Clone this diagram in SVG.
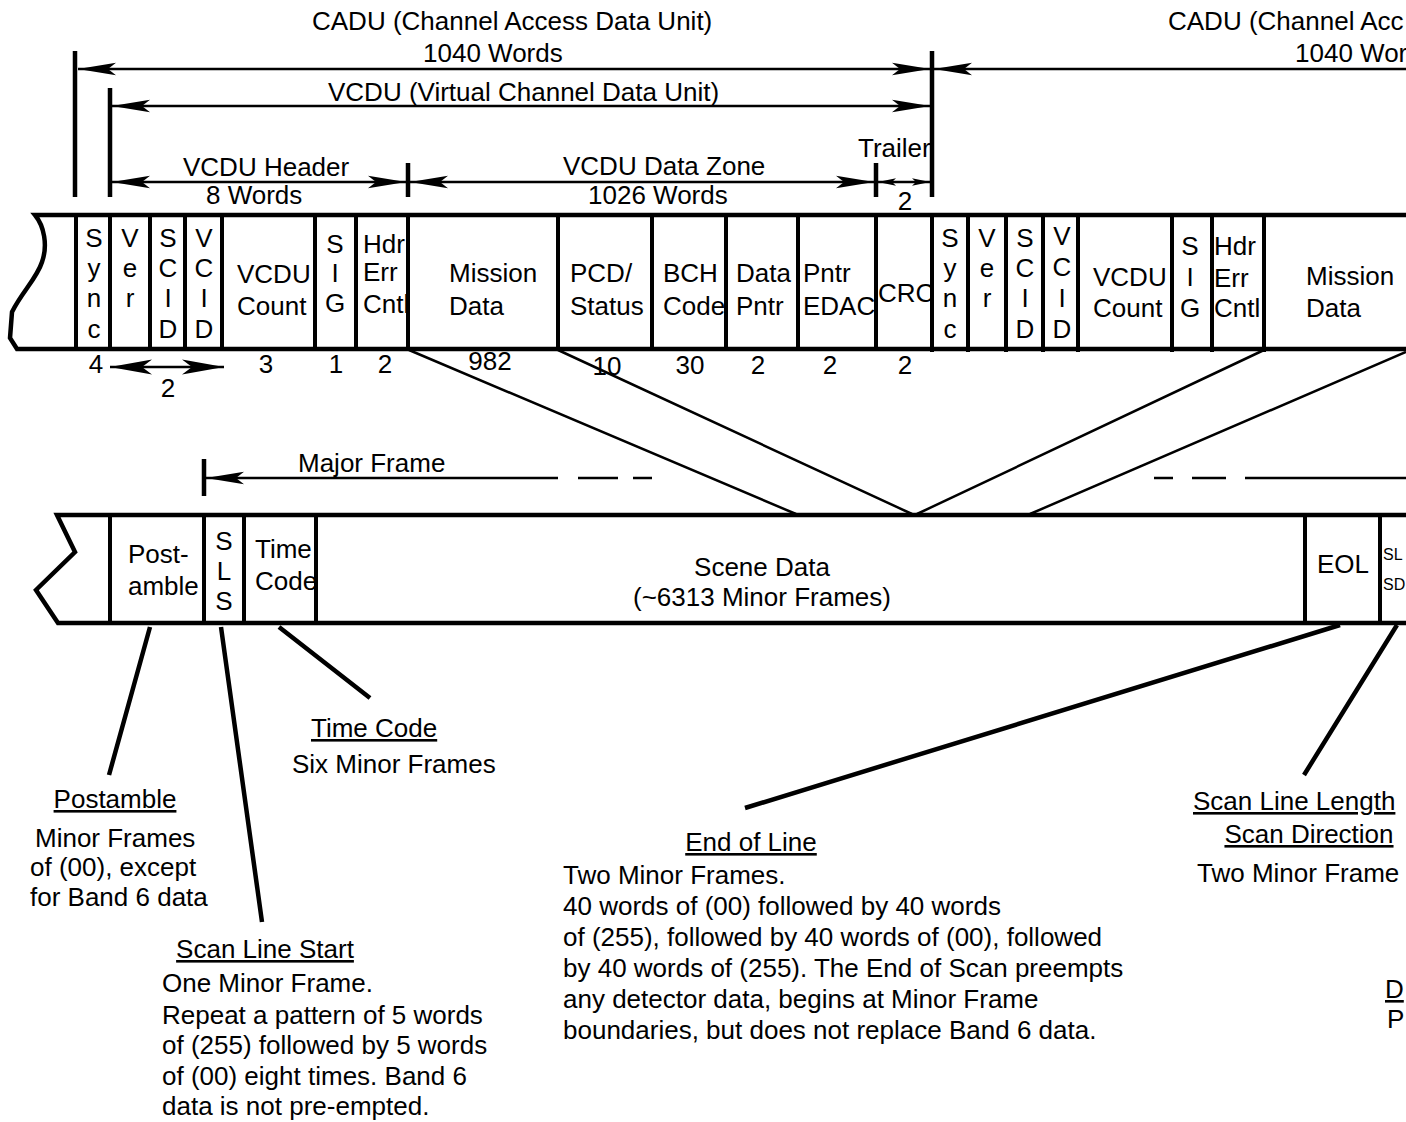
<svg xmlns="http://www.w3.org/2000/svg" width="1406" height="1122" viewBox="0 0 1406 1122">
<style>
text{font-family:"Liberation Sans",Arial,sans-serif;font-size:26px;fill:#000}
.m{text-anchor:middle}
.u{text-decoration:underline}
.fr{fill:none;stroke:#000;stroke-width:4.5}
.dv{stroke:#000;stroke-width:4}
.bar{stroke:#000;stroke-width:4.5}
.ar{stroke:#000;stroke-width:2.5;fill:none}
.dg{stroke:#000;stroke-width:2.5}
.ld{stroke:#000;stroke-width:4.5}
.sm{font-size:16px}
</style>
<defs>
<marker id="ah" markerUnits="userSpaceOnUse" markerWidth="40" markerHeight="14" refX="38" refY="7" orient="auto-start-reverse" viewBox="0 0 40 14"><path d="M38,7 L0,0.8 L8,7 L0,13.2 Z"/></marker>
<marker id="ahs" markerUnits="userSpaceOnUse" markerWidth="20" markerHeight="10" refX="18" refY="5" orient="auto-start-reverse" viewBox="0 0 20 10"><path d="M18,5 L0,1.2 L4,5 L0,8.8 Z"/></marker>
<marker id="ahw" markerUnits="userSpaceOnUse" markerWidth="44" markerHeight="18" refX="42" refY="9" orient="auto-start-reverse" viewBox="0 0 44 18"><path d="M42,9 L0,1.5 L10,9 L0,16.5 Z"/></marker>
</defs>
<rect width="1406" height="1122" fill="#fff"/>

<g id="labels-top">
<text x="312" y="30">CADU (Channel Access Data Unit)</text>
<text x="423" y="62">1040 Words</text>
<text x="328" y="101">VCDU (Virtual Channel Data Unit)</text>
<text x="183" y="176">VCDU Header</text>
<text x="206" y="204">8 Words</text>
<text x="563" y="175">VCDU Data Zone</text>
<text x="588" y="204">1026 Words</text>
<text x="858" y="157">Trailer</text>
<text x="905" y="210" class="m">2</text>
<text x="1168" y="30">CADU (Channel Acc</text>
<text x="1295" y="62">1040 Wor</text>
</g>

<g id="vcdu-frame">
<path class="fr" d="M1406,215 L35,215 C44,226 48,245 42,262 C37,278 22,292 12,312 L10,338 L17,349 L1406,349"/>
<g id="dividers">
<path class="dv" d="M76,215V351M110,215V351M150,215V351M185,215V351M222,215V351M315,215V351M356,215V351M408,215V351M558,215V351M652,215V351M726,215V351M798,215V351M876,215V351M932,215V352M968,215V352M1006,215V352M1043,215V352M1078,215V352M1172,215V352M1212,215V352M1264,215V352"/>
</g>
</g>

<g id="cell-sync"><text class="m" x="94" y="247">S</text><text class="m" x="94" y="277">y</text><text class="m" x="94" y="307">n</text><text class="m" x="94" y="338">c</text></g>
<g id="cell-ver"><text class="m" x="130" y="247">V</text><text class="m" x="130" y="277">e</text><text class="m" x="130" y="307">r</text></g>
<g id="cell-scid"><text class="m" x="168" y="247">S</text><text class="m" x="168" y="277">C</text><text class="m" x="168" y="307">I</text><text class="m" x="168" y="338">D</text></g>
<g id="cell-vcid"><text class="m" x="204" y="247">V</text><text class="m" x="204" y="277">C</text><text class="m" x="204" y="307">I</text><text class="m" x="204" y="338">D</text></g>
<g id="cell-count"><text x="237" y="283">VCDU</text><text x="237" y="315">Count</text></g>
<g id="cell-sig"><text class="m" x="335" y="253">S</text><text class="m" x="335" y="282">I</text><text class="m" x="335" y="312">G</text></g>
<g id="cell-hdr"><text x="363" y="253">Hdr</text><text x="363" y="281">Err</text><text x="363" y="313">Cntl</text></g>
<g id="cell-mission"><text x="449" y="282">Mission</text><text x="449" y="315">Data</text></g>
<g id="cell-pcd"><text x="570" y="282">PCD/</text><text x="570" y="315">Status</text></g>
<g id="cell-bch"><text x="663" y="282">BCH</text><text x="663" y="315">Code</text></g>
<g id="cell-dptr"><text x="736" y="282">Data</text><text x="736" y="315">Pntr</text></g>
<g id="cell-edac"><text x="803" y="282">Pntr</text><text x="803" y="315">EDAC</text></g>
<g id="cell-crc"><text x="878" y="302">CRC</text></g>
<g id="cell-sync2"><text class="m" x="950" y="247">S</text><text class="m" x="950" y="277">y</text><text class="m" x="950" y="307">n</text><text class="m" x="950" y="338">c</text></g>
<g id="cell-ver2"><text class="m" x="987" y="247">V</text><text class="m" x="987" y="277">e</text><text class="m" x="987" y="307">r</text></g>
<g id="cell-scid2"><text class="m" x="1025" y="247">S</text><text class="m" x="1025" y="277">C</text><text class="m" x="1025" y="307">I</text><text class="m" x="1025" y="338">D</text></g>
<g id="cell-vcid2"><text class="m" x="1062" y="245">V</text><text class="m" x="1062" y="276">C</text><text class="m" x="1062" y="307">I</text><text class="m" x="1062" y="338">D</text></g>
<g id="cell-count2"><text x="1093" y="286">VCDU</text><text x="1093" y="317">Count</text></g>
<g id="cell-sig2"><text class="m" x="1190" y="255">S</text><text class="m" x="1190" y="286">I</text><text class="m" x="1190" y="317">G</text></g>
<g id="cell-hdr2"><text x="1214" y="255">Hdr</text><text x="1214" y="287">Err</text><text x="1214" y="317">Cntl</text></g>
<g id="cell-mission2"><text x="1306" y="285">Mission</text><text x="1306" y="317">Data</text></g>

<g id="sizes">
<text class="m" x="96" y="373">4</text>
<text class="m" x="168" y="397">2</text>
<text class="m" x="266" y="373">3</text>
<text class="m" x="336" y="373">1</text>
<text class="m" x="385" y="373">2</text>
<text class="m" x="490" y="370">982</text>
<text class="m" x="607" y="375">10</text>
<text class="m" x="690" y="374">30</text>
<text class="m" x="758" y="374">2</text>
<text class="m" x="830" y="374">2</text>
<text class="m" x="905" y="374">2</text>
</g>

<g id="major-frame">
<path class="fr" d="M1406,515 L57,515 L75,552 L36,590 L58,623 L1406,623"/>
<path class="dv" d="M110,515V623M204,515V623M244,515V623M316,515V623M1305,515V623M1380,515V623"/>
<text x="298" y="472">Major Frame</text>
</g>
<g id="cell-postamble"><text x="128" y="563">Post-</text><text x="128" y="595">amble</text></g>
<g id="cell-sls"><text class="m" x="224" y="550">S</text><text class="m" x="224" y="580">L</text><text class="m" x="224" y="610">S</text></g>
<g id="cell-timecode"><text x="255" y="558">Time</text><text x="255" y="590">Code</text></g>
<g id="cell-scene"><text class="m" x="762" y="576">Scene Data</text><text class="m" x="762" y="606">(~6313 Minor Frames)</text></g>
<g id="cell-eol"><text class="m" x="1343" y="573">EOL</text></g>
<g id="cell-slsd"><text class="sm" x="1383" y="560">SL</text><text class="sm" x="1383" y="590">SD</text></g>

<g id="note-timecode"><text class="u" x="311" y="737">Time Code</text><text x="292" y="773">Six Minor Frames</text></g>
<g id="note-postamble"><text class="u m" x="115" y="808">Postamble</text><text x="35" y="847">Minor Frames</text><text x="30" y="876">of (00), except</text><text x="30" y="906">for Band 6 data</text></g>
<g id="note-sls"><text class="u m" x="265" y="958">Scan Line Start</text><text x="162" y="992">One Minor Frame.</text><text x="162" y="1024">Repeat a pattern of 5 words</text><text x="162" y="1054">of (255) followed by 5 words</text><text x="162" y="1085">of (00) eight times. Band 6</text><text x="162" y="1115">data is not pre-empted.</text></g>
<g id="note-eol"><text class="u m" x="751" y="851">End of Line</text><text x="563" y="884">Two Minor Frames.</text><text x="563" y="915">40 words of (00) followed by 40 words</text><text x="563" y="946">of (255), followed by 40 words of (00), followed</text><text x="563" y="977">by 40 words of (255). The End of Scan preempts</text><text x="563" y="1008">any detector data, begins at Minor Frame</text><text x="563" y="1039">boundaries, but does not replace Band 6 data.</text></g>
<g id="note-sll"><text class="u" x="1193" y="810">Scan Line Length</text><text class="u m" x="1309" y="843">Scan Direction</text><text x="1197" y="882">Two Minor Frame</text></g>
<g id="note-d"><text class="u" x="1385" y="998">D</text><text x="1387" y="1028">P</text></g>

<g id="connectors">
<path class="bar" d="M75,51V197M110,88V197M408,163V197M876,163V197M932,51V197M204,459V496"/>
<line class="ar" x1="78" y1="69" x2="930" y2="69" marker-start="url(#ah)" marker-end="url(#ah)"/>
<line class="ar" x1="934" y1="69" x2="1406" y2="69" marker-start="url(#ah)"/>
<line class="ar" x1="112" y1="106" x2="930" y2="106" marker-start="url(#ah)" marker-end="url(#ah)"/>
<line class="ar" x1="112" y1="182" x2="406" y2="182" marker-start="url(#ah)" marker-end="url(#ah)"/>
<line class="ar" x1="410" y1="182" x2="874" y2="182" marker-start="url(#ah)" marker-end="url(#ah)"/>
<line class="ar" x1="878" y1="182" x2="930" y2="182" marker-start="url(#ahs)" marker-end="url(#ahs)"/>
<line class="ar" x1="110" y1="367" x2="224" y2="367" marker-start="url(#ahw)" marker-end="url(#ahw)"/>
<line class="ar" x1="206" y1="478" x2="558" y2="478" marker-start="url(#ah)"/>
<path class="ar" d="M578,478H618M633,478H652M1154,478H1173M1192,478H1226M1245,478H1406"/>
<path class="dg" d="M409,350L796,514M558,350L912,514M1264,350L917,514M1406,352L1030,514"/>
<path class="ld" d="M150,627L109,775M221,627L262,922M279,627L370,698M1340,625L745,808M1397,625L1304,775"/>
</g>
</svg>
